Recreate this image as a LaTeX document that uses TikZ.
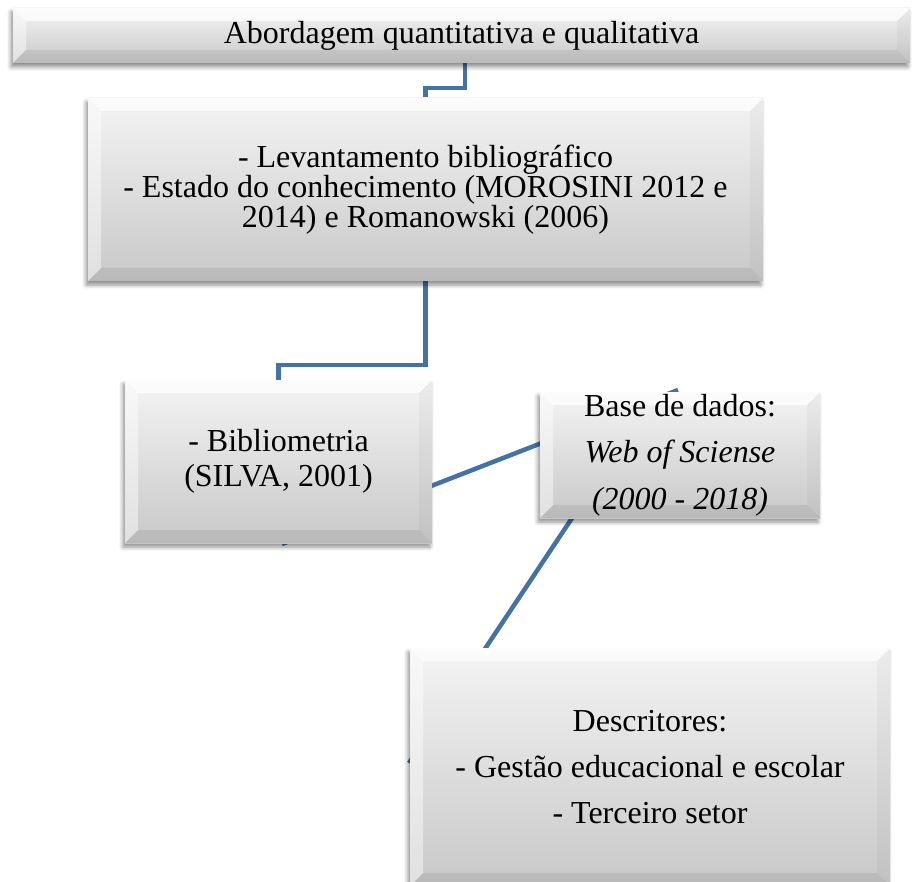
\documentclass[tikz,border=0pt]{standalone}
\usepackage{fontspec}
\setmainfont{Liberation Serif}
\usetikzlibrary{shadows.blur,backgrounds}
\definecolor{connblue}{RGB}{68,114,168}
\definecolor{facetop}{RGB}{244,244,244}
\definecolor{facebot}{RGB}{200,200,200}
\tikzset{
  bevbox/.style={rectangle, inner sep=0pt, align=center,
    top color=facetop, bottom color=facebot,
    blur shadow={shadow xshift=-2pt, shadow yshift=-4pt, shadow blur radius=4pt, shadow opacity=45},
    path picture={
      \coordinate (bnw) at (path picture bounding box.north west);
      \coordinate (bne) at (path picture bounding box.north east);
      \coordinate (bsw) at (path picture bounding box.south west);
      \coordinate (bse) at (path picture bounding box.south east);
      \coordinate (inw) at ([shift={(13pt,-13pt)}]bnw);
      \coordinate (ine) at ([shift={(-13pt,-13pt)}]bne);
      \coordinate (isw) at ([shift={(13pt,13pt)}]bsw);
      \coordinate (ise) at ([shift={(-13pt,13pt)}]bse);
      \fill[white, fill opacity=0.75] (bnw) -- (bne) -- (ine) -- (inw) -- cycle;
      \fill[white, fill opacity=0.45] (bnw) -- (inw) -- (isw) -- (bsw) -- cycle;
      \fill[black, fill opacity=0.03] (bne) -- (bse) -- (ise) -- (ine) -- cycle;
      \fill[black, fill opacity=0.07] (bsw) -- (bse) -- (ise) -- (isw) -- cycle;
    }},
  conn/.style={draw=connblue, line width=4.5pt},
}
\begin{document}
\begin{tikzpicture}[x=1pt,y=-1pt]
\useasboundingbox (0,0) rectangle (912,882);
\clip (0,0) rectangle (912,882);

\coordinate (l1a) at (282,544);
\coordinate (l1b) at (678,390);
\coordinate (l2a) at (604,470);
\coordinate (l2b) at (409,763);

\node[bevbox, minimum width=897pt, minimum height=55pt, font=\fontsize{32}{34}\selectfont] (top) at (461.5,35.5) {Abordagem quantitativa e qualitativa};

\node[bevbox, minimum width=675pt, minimum height=183pt, font=\fontsize{32}{30}\selectfont] (b2) at (425.5,189.5)
  {- Levantamento bibliográfico\\- Estado do conhecimento (MOROSINI 2012 e\\2014) e Romanowski (2006)};

\node[bevbox, minimum width=307pt, minimum height=163pt, font=\fontsize{32}{35}\selectfont] (b3) at (278.5,461.5)
  {- Bibliometria\\(SILVA, 2001)};

\node[bevbox, minimum width=280pt, minimum height=126pt, font=\fontsize{32}{46.5}\selectfont] (b4) at (680,455)
  {Base de dados:\\\textit{Web of Sciense}\\\textit{(2000 - 2018)}};

\node[bevbox, minimum width=480pt, minimum height=238pt, font=\fontsize{32}{46}\selectfont] (b5) at (650,767)
  {Descritores:\\- Gestão educacional e escolar\\- Terceiro setor};

\begin{scope}[on background layer]
  \draw[conn] (l1a) -- (l1b);
  \draw[conn] (l2a) -- (l2b);
  \draw[conn] ([xshift=3.5pt]top.south) -- ++(0,25) -| (b2.north);
  \draw[conn] (b2.south) -- ++(0,84) -| (b3.north);
\end{scope}
\end{tikzpicture}
\end{document}
